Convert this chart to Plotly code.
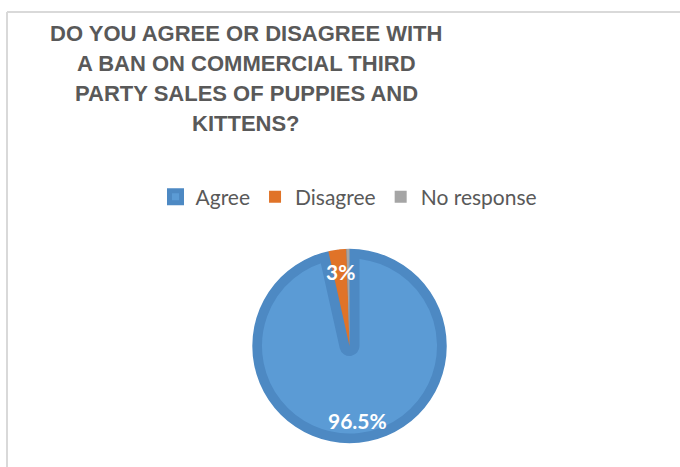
import math
import plotly.graph_objects as go

labels = ["Agree", "Disagree", "No response"]
values = [96.5, 3.0, 0.5]
value_text = ["96.5%", "3%", ""]
colors = ["#5b9bd5", "#e07328", "#a5a5a5"]
line_colors = ["#4d89c3", "rgba(0,0,0,0)", "rgba(0,0,0,0)"]
line_widths = [20, 0, 0]

W, H = 680, 467
cx, cy, r_pie = 349.5, 346.0, 97.5   # pixel centre / radius of pie

def dom(r):
    return dict(x=[(cx - r) / W, (cx + r) / W], y=[1 - (cy + r) / H, 1 - (cy - r) / H])

fig = go.Figure()
fig.add_trace(go.Pie(
    labels=labels, values=values, sort=False, direction="clockwise", rotation=0,
    marker=dict(colors=colors, line=dict(color=line_colors, width=line_widths)),
    textinfo="none", hoverinfo="label+percent", domain=dom(r_pie),
))
# white ring hiding the outer half of the slice outline (outline drawn inside only)
r_mask = r_pie + 14
fig.add_trace(go.Pie(
    labels=["mask"], values=[1], hole=(r_pie - 0.3) / r_mask, sort=False,
    marker=dict(colors=["white"], line=dict(width=0)),
    textinfo="none", hoverinfo="skip", showlegend=False, domain=dom(r_mask),
))

# data labels placed along each slice's bisector
total = sum(values)
cum = 0.0
annotations = []
label_r = 75.0
for v, t in zip(values, value_text):
    mid = (cum + v / 2) / total * 360.0
    cum += v
    if not t:
        continue
    px = cx + label_r * math.sin(math.radians(mid))
    py = cy - label_r * math.cos(math.radians(mid))
    annotations.append(dict(x=px / W, y=1 - py / H, xref="paper", yref="paper",
                            xanchor="center", yanchor="middle",
                            text=f"<b>{t}</b>", showarrow=False,
                            font=dict(family="Lato", size=21, color="white")))

title_lines = ["DO YOU AGREE OR DISAGREE WITH", "A BAN ON COMMERCIAL THIRD",
               "PARTY SALES OF PUPPIES AND", "KITTENS?"]
for i, line in enumerate(title_lines):
    annotations.append(dict(x=246 / W, y=1 - (33.5 + 30 * i) / H, xref="paper", yref="paper",
                            text=f"<b>{line}</b>", showarrow=False, xanchor="center", yanchor="middle",
                            font=dict(family="Liberation Sans", size=22, color="#595959")))

fig.update_layout(
    width=W, height=H, margin=dict(l=0, r=0, t=0, b=0),
    paper_bgcolor="white", plot_bgcolor="white",
    showlegend=True,
    legend=dict(orientation="h", x=349 / W, xanchor="center", y=1 - 197 / H, yanchor="middle",
                font=dict(family="Lato", size=21, color="#595959"), itemwidth=30,
                traceorder="normal"),
    annotations=annotations,
    shapes=[
        dict(type="line", xref="paper", yref="paper", x0=7 / W, x1=1, y0=1 - 12 / H, y1=1 - 12 / H,
             line=dict(color="#d9d9d9", width=2)),
        dict(type="line", xref="paper", yref="paper", x0=7 / W, x1=7 / W, y0=1 - 12 / H, y1=0,
             line=dict(color="#d9d9d9", width=2)),
    ],
)

fig.write_html("out.html")
